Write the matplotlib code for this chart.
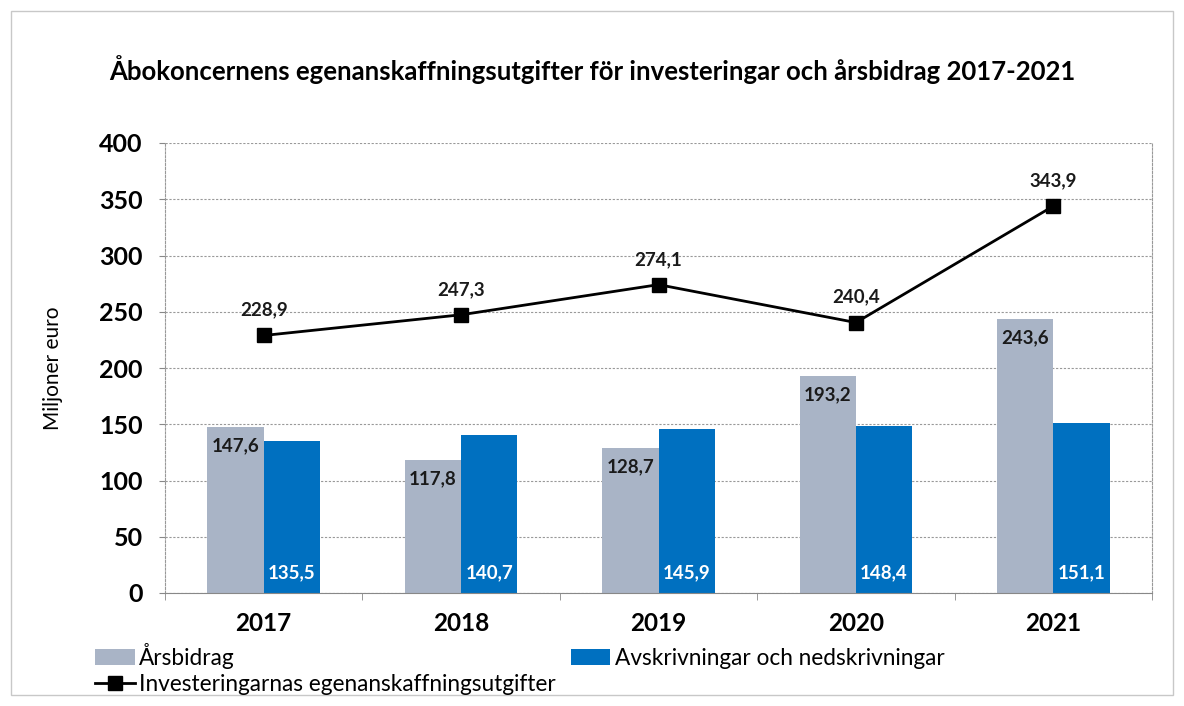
import matplotlib.pyplot as plt
import numpy as np
from matplotlib.patches import Rectangle

plt.rcParams['font.family'] = ['Lato', 'DejaVu Sans']

# data
years = ['2017', '2018', '2019', '2020', '2021']
arsbidrag = [147.6, 117.8, 128.7, 193.2, 243.6]
avskrivningar = [135.5, 140.7, 145.9, 148.4, 151.1]
investeringar = [228.9, 247.3, 274.1, 240.4, 343.9]

grey = '#A9B4C6'
blue = '#0070C0'

fig = plt.figure(figsize=(11.84, 7.06), dpi=100)
fig.patches.append(Rectangle((0.009, 0.015), 0.982, 0.97, transform=fig.transFigure,
                             fill=False, edgecolor='#C8C8C8', linewidth=1))
ax = fig.add_axes([165 / 1184, 1 - 593 / 706, 987 / 1184, 450 / 706])

x = np.arange(len(years))
w = 0.285
b1 = ax.bar(x - w / 2, arsbidrag, w, color=grey, label='Årsbidrag', zorder=2)
b2 = ax.bar(x + w / 2, avskrivningar, w, color=blue, label='Avskrivningar och nedskrivningar', zorder=2)
ln, = ax.plot(x, investeringar, color='black', lw=2, marker='s', markersize=10,
              label='Investeringarnas egenanskaffningsutgifter', zorder=3)

for xi, v in zip(x, arsbidrag):
    ax.text(xi - w / 2, v - 9, f'{v:.1f}'.replace('.', ','), ha='center', va='top',
            fontsize=13.5, fontweight='bold', color='#1a1a1a', zorder=4)
for xi, v in zip(x, avskrivningar):
    ax.text(xi + w / 2, 18, f'{v:.1f}'.replace('.', ','), ha='center', va='center',
            fontsize=13.5, fontweight='bold', color='white', zorder=4)
for xi, v in zip(x, investeringar):
    ax.text(xi, v + 15, f'{v:.1f}'.replace('.', ','), ha='center', va='bottom',
            fontsize=13.5, fontweight='bold', color='#1a1a1a', zorder=4)

ax.set_xlim(-0.5, 4.5)
ax.set_ylim(0, 400)
ax.set_yticks(range(0, 401, 50))
ax.set_xticks(x)
ax.set_xticklabels(years, fontsize=17.5, fontweight='bold')
ax.set_xticks(np.arange(-0.5, 5, 1), minor=True)
ax.tick_params(axis='x', which='major', length=0, pad=14)
ax.tick_params(axis='x', which='minor', length=5, color='#888888')
ax.tick_params(axis='y', length=4, color='#888888', labelsize=18, pad=12)
for lab in ax.get_yticklabels():
    lab.set_fontweight('bold')
ax.grid(axis='y', color='#999999', linestyle=(0, (2, 1.5)), linewidth=0.8, zorder=0)
for s in ['left', 'right', 'top']:
    ax.spines[s].set_color('#999999')
    ax.spines[s].set_linestyle((0, (2, 1.5)))
    ax.spines[s].set_linewidth(0.8)
ax.spines['top'].set_visible(False)
ax.spines['bottom'].set_color('#888888')
ax.set_ylabel('Miljoner euro', fontsize=15, labelpad=26)

fig.text(0.5, 1 - 70 / 706, 'Åbokoncernens egenanskaffningsutgifter för investeringar och årsbidrag 2017-2021',
         ha='center', va='center', fontsize=18.5, fontweight='bold')

fig.legend(handles=[b1, ln, b2], loc='upper left', bbox_to_anchor=(95 / 1184, 1 - 643 / 706),
           ncol=2, frameon=False, fontsize=16.3, handlelength=1.75, handletextpad=0.2,
           columnspacing=0.65, labelspacing=0.22, borderpad=0, borderaxespad=0)

fig.savefig('out.png', dpi=100)
